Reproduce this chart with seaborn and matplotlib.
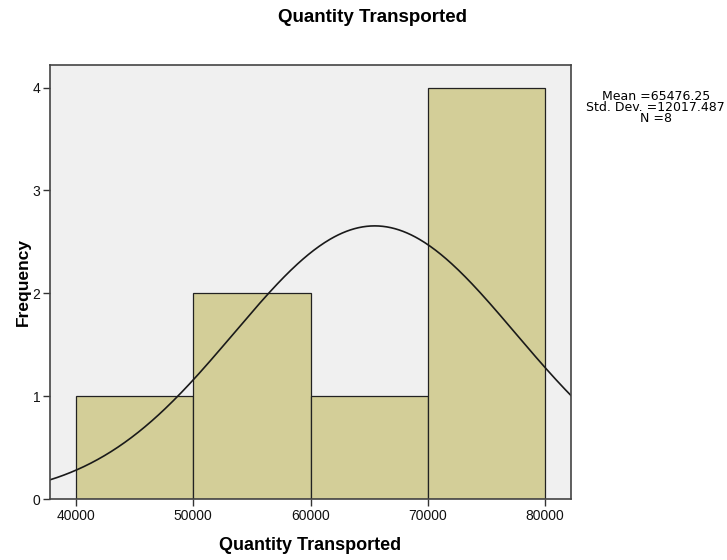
import numpy as np
import pandas as pd
import matplotlib
matplotlib.use("Agg")
import matplotlib.pyplot as plt
import seaborn as sns

# histogram bins and counts
bin_edges = [40000, 50000, 60000, 70000, 80000]
counts = [1, 2, 1, 4]
mean_val = 65476.25
std_val = 12017.487
n_obs = 8

sns.set_style("white")
plt.rcParams['font.family'] = ['Liberation Sans', 'DejaVu Sans']
plt.rcParams['text.color'] = 'black'
plt.rcParams['axes.labelcolor'] = 'black'
plt.rcParams['xtick.color'] = 'black'
plt.rcParams['ytick.color'] = 'black'

fig = plt.figure(figsize=(7.27, 5.6), dpi=100)
ax = fig.add_axes([0.0688, 0.1089, 0.7166, 0.775])
ax.set_facecolor("#F0F0F0")

centers = [(a + b) / 2 for a, b in zip(bin_edges[:-1], bin_edges[1:])]
df = pd.DataFrame({"value": centers, "count": counts})
sns.histplot(data=df, x="value", weights="count", bins=bin_edges, ax=ax,
             color="#D3CE98", alpha=1, edgecolor="#222222", linewidth=0.9)

# fitted normal curve scaled to counts
width = bin_edges[1] - bin_edges[0]
xs = np.linspace(37000, 83000, 400)
ys = n_obs * width / (std_val * np.sqrt(2 * np.pi)) * np.exp(-0.5 * ((xs - mean_val) / std_val) ** 2)
sns.lineplot(x=xs, y=ys, ax=ax, color="#1a1a1a", linewidth=1.2)

ax.set_xlim(37780, 82220)
ax.set_ylim(0, 4.22)
ax.set_xticks(bin_edges)
ax.set_xticklabels([str(e) for e in bin_edges])
ax.set_yticks([0, 1, 2, 3, 4])
ax.tick_params(axis="both", direction="out", length=5, width=1, labelsize=10, color="#333333",
               labelcolor="#111111", bottom=True, left=True, pad=2)
for s in ax.spines.values():
    s.set_color("#444444")
    s.set_linewidth(1.2)

ax.set_xlabel("Quantity Transported", fontsize=13, fontweight="bold")
ax.xaxis.set_label_coords(0.5, -0.088)
ax.set_ylabel("Frequency", fontsize=12.5, fontweight="bold")
ax.yaxis.set_label_coords(-0.037, 0.5)
fig.text(0.513, 0.968, "Quantity Transported", fontsize=13.5, fontweight="bold", ha="center", va="center")
fig.text(0.902, 0.808, "Mean =65476.25\nStd. Dev. =12017.487\nN =8", fontsize=9,
         family="DejaVu Sans", ha="center", va="center", linespacing=0.82)

fig.savefig("out.png", dpi=100)
